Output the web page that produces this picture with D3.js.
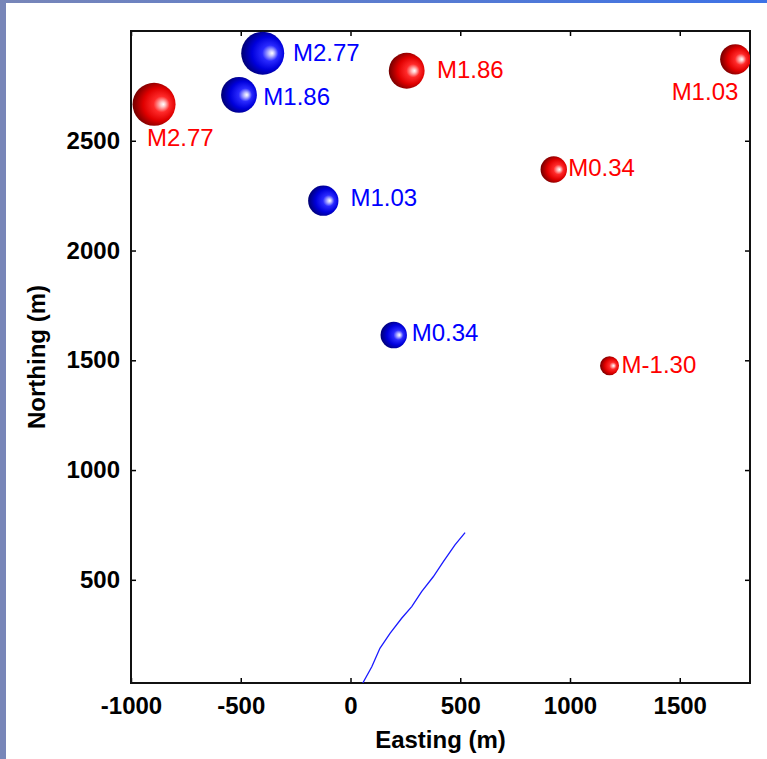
<!DOCTYPE html>
<html>
<head>
<meta charset="utf-8">
<script src="https://cdn.jsdelivr.net/npm/d3@7"></script>
<style>
  html, body { margin: 0; padding: 0; background: #ffffff; }
  svg { display: block; }
  text { font-family: "Liberation Sans", Arial, sans-serif; }
</style>
</head>
<body>
<svg id="chart" width="767" height="759"></svg>
<script>
// Event locations (Easting / Northing in metres) and magnitudes
const blueEasting  = [-400, -508, -124, 197];
const blueNorthing = [2899, 2709, 2227, 1615];
const blueMag      = [2.77, 1.86, 1.03, 0.34];
const blueLabelEasting  = [-262, -397, 0, 279];
const blueLabelNorthing = [2902, 2700, 2240, 1629];

const redEasting  = [-895, 256, 1753, 926, 1180];
const redNorthing = [2666, 2819, 2871, 2369, 1475];
const redMag      = [2.77, 1.86, 1.03, 0.34, -1.30];
const redLabelEasting  = [-927, 394, 1463, 992, 1235];
const redLabelNorthing = [2515, 2827, 2727, 2381, 1483];

// Well trajectory (Easting, Northing)
const pathEasting  = [56, 97, 134, 180, 233, 279, 324, 377, 423, 476, 522];
const pathNorthing = [30, 104, 188, 256, 325, 378, 446, 514, 583, 659, 715];

const xTicks = [-1000, -500, 0, 500, 1000, 1500];
const yTicks = [500, 1000, 1500, 2000, 2500];

const svg = d3.select("#chart");
const W = 767, H = 759;
const plot = { left: 131, right: 750, top: 31, bottom: 683 };

// window chrome bands
const defs = svg.append("defs");
const band = defs.append("linearGradient").attr("id", "topBand")
  .attr("x1", "0%").attr("x2", "100%");
band.append("stop").attr("offset", "0%").attr("stop-color", "#7886b8");
band.append("stop").attr("offset", "100%").attr("stop-color", "#3d72e6");
svg.append("rect").attr("x", 0).attr("y", 0).attr("width", W).attr("height", H).attr("fill", "#ffffff");
svg.append("rect").attr("x", 0).attr("y", 0).attr("width", 6).attr("height", H).attr("fill", "#7886b8");
svg.append("rect").attr("x", 0).attr("y", 0).attr("width", W).attr("height", 3).attr("fill", "url(#topBand)");

// sphere shading
function sphereGradient(id, light, main, mid, dark) {
  const g = defs.append("radialGradient").attr("id", id)
    .attr("cx", "0.58").attr("cy", "0.5").attr("r", "0.58")
    .attr("fx", "0.72").attr("fy", "0.5");
  g.append("stop").attr("offset", "0%").attr("stop-color", "#ffffff");
  g.append("stop").attr("offset", "10%").attr("stop-color", light);
  g.append("stop").attr("offset", "32%").attr("stop-color", main);
  g.append("stop").attr("offset", "65%").attr("stop-color", mid);
  g.append("stop").attr("offset", "100%").attr("stop-color", dark);
}
sphereGradient("blueBall", "#c8c8ff", "#2a2aff", "#0000dc", "#000070");
sphereGradient("redBall", "#ffc8c8", "#ff2a2a", "#e00000", "#700000");

defs.append("clipPath").attr("id", "plotClip").append("rect")
  .attr("x", plot.left).attr("y", plot.top)
  .attr("width", plot.right - plot.left).attr("height", plot.bottom - plot.top);

// equal-aspect scales
const x = d3.scaleLinear().domain([-1000, 1820]).range([plot.left, plot.right]);
const y = d3.scaleLinear().domain([30, 3000]).range([plot.bottom, plot.top]);
// radius grows exponentially with magnitude
const logR = d3.scaleLinear().domain([-1.3, 2.77]).range([Math.log(9.5), Math.log(21.5)]);
const radius = m => Math.exp(logR(m));

const plain = d => String(d);
const tickFont = g => g.selectAll("text")
  .attr("font-size", 24).attr("font-weight", "bold").attr("fill", "#000")
  .style("font-family", '"Liberation Sans", Arial, sans-serif');

// axes, ticks pointing inward
svg.append("g").attr("transform", `translate(0,${plot.bottom})`)
  .call(d3.axisBottom(x).tickValues(xTicks).tickFormat(plain).tickSizeInner(-5).tickSizeOuter(0).tickPadding(14))
  .call(g => g.select(".domain").remove())
  .call(g => g.selectAll("line").attr("stroke", "#000").attr("stroke-width", 1.5))
  .call(tickFont);
svg.append("g").attr("transform", `translate(${plot.left},0)`)
  .call(d3.axisLeft(y).tickValues(yTicks).tickFormat(plain).tickSizeInner(-5).tickSizeOuter(0).tickPadding(11))
  .call(g => g.select(".domain").remove())
  .call(g => g.selectAll("line").attr("stroke", "#000").attr("stroke-width", 1.5))
  .call(tickFont);
svg.append("g").attr("transform", `translate(0,${plot.top})`)
  .call(d3.axisTop(x).tickValues(xTicks).tickSizeInner(-5).tickSizeOuter(0).tickFormat(""))
  .call(g => g.select(".domain").remove())
  .call(g => g.selectAll("line").attr("stroke", "#000").attr("stroke-width", 1.5));
svg.append("g").attr("transform", `translate(${plot.right},0)`)
  .call(d3.axisRight(y).tickValues(yTicks).tickSizeInner(-5).tickSizeOuter(0).tickFormat(""))
  .call(g => g.select(".domain").remove())
  .call(g => g.selectAll("line").attr("stroke", "#000").attr("stroke-width", 1.5));

// axis box
svg.append("rect")
  .attr("x", plot.left).attr("y", plot.top)
  .attr("width", plot.right - plot.left).attr("height", plot.bottom - plot.top)
  .attr("fill", "none").attr("stroke", "#111").attr("stroke-width", 2);

// axis titles
svg.append("text").attr("x", (plot.left + plot.right) / 2).attr("y", 748)
  .attr("text-anchor", "middle").attr("font-size", 24).attr("font-weight", "bold")
  .text("Easting (m)");
svg.append("text").attr("transform", `translate(45,${(plot.top + plot.bottom) / 2}) rotate(-90)`)
  .attr("text-anchor", "middle").attr("font-size", 24).attr("font-weight", "bold")
  .text("Northing (m)");

const inner = svg.append("g").attr("clip-path", "url(#plotClip)");

// well trajectory
const pathPts = pathEasting.map((e, i) => [e, pathNorthing[i]]);
inner.append("path").datum(pathPts)
  .attr("d", d3.line().x(d => x(d[0])).y(d => y(d[1])))
  .attr("fill", "none").attr("stroke", "#1a1aff").attr("stroke-width", 1.3);

const fmt = m => "M" + m.toFixed(2);

function drawSeries(east, north, mags, labE, labN, grad, color) {
  const pts = east.map((e, i) => ({ e, n: north[i], m: mags[i], le: labE[i], ln: labN[i] }));
  inner.selectAll(null).data(pts).enter().append("circle")
    .attr("cx", d => x(d.e)).attr("cy", d => y(d.n))
    .attr("r", d => radius(d.m))
    .attr("fill", `url(#${grad})`);
  svg.selectAll(null).data(pts).enter().append("text")
    .attr("x", d => x(d.le)).attr("y", d => y(d.ln))
    .attr("dy", "0.36em")
    .attr("font-size", 24).attr("fill", color)
    .text(d => fmt(d.m));
}
drawSeries(blueEasting, blueNorthing, blueMag, blueLabelEasting, blueLabelNorthing, "blueBall", "#0000ff");
drawSeries(redEasting, redNorthing, redMag, redLabelEasting, redLabelNorthing, "redBall", "#ff0000");
</script>
</body>
</html>
